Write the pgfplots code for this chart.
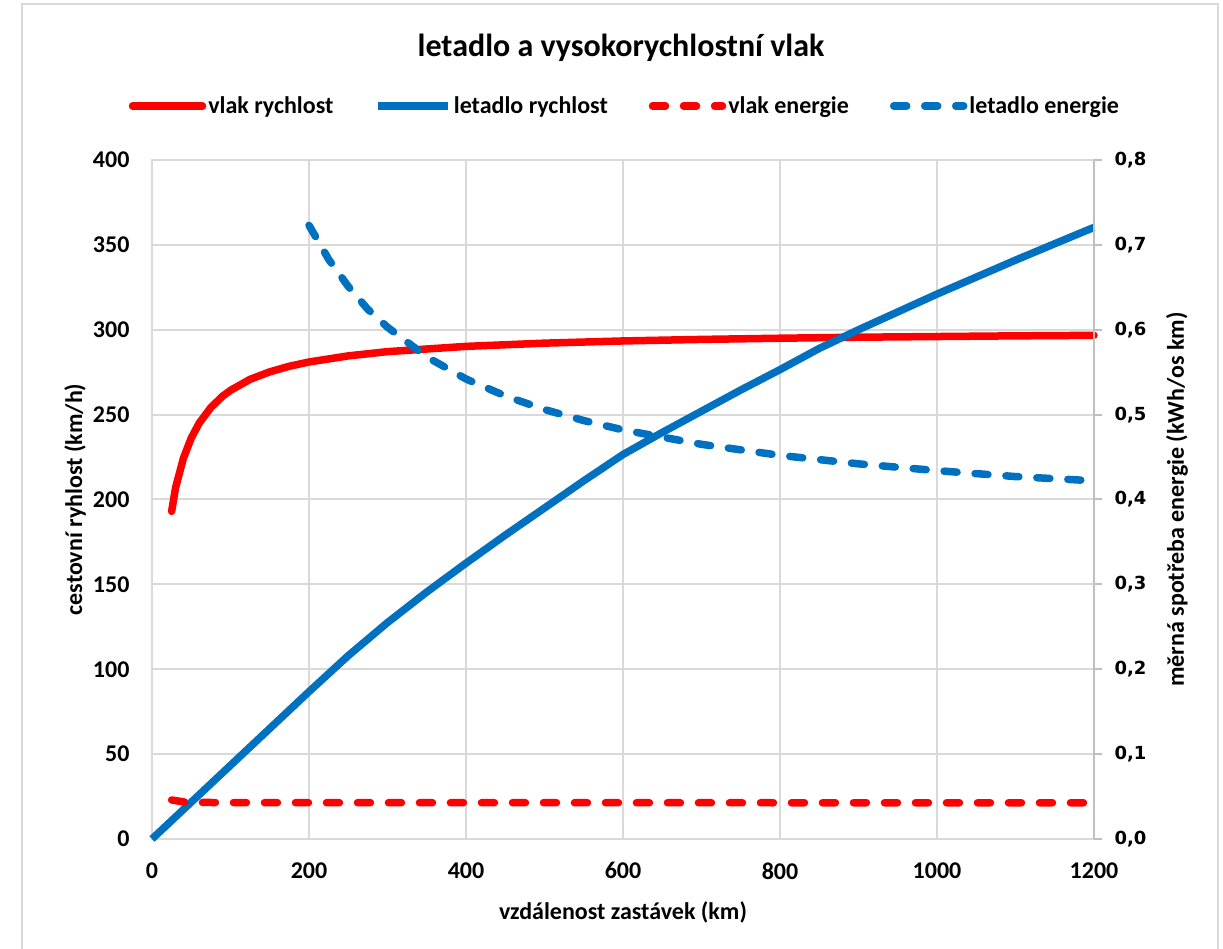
\documentclass[border=0pt]{standalone}
\usepackage{fontspec}
\setmainfont{Carlito}
\newfontfamily\dejavu{DejaVu Sans}
\usepackage{pgfplots}
\pgfplotsset{compat=1.18}
\definecolor{xred}{HTML}{FF0000}
\definecolor{xblue}{HTML}{0070C0}
\definecolor{gridgray}{HTML}{D9D9D9}
\definecolor{axgray}{HTML}{BFBFBF}
\begin{document}
\begin{tikzpicture}[x=1pt,y=1pt]
\useasboundingbox (0,0) rectangle (1223,949);
\draw[gridgray, line width=2pt] (22,0) -- (22,945) -- (1218,945) -- (1218,0);
\node[font=\fontsize{32}{36}\selectfont\bfseries] at (621,901) {letadlo a vysokorychlostní vlak};
\begin{axis}[
  at={(152pt,110pt)}, anchor=south west,
  scale only axis, width=942pt, height=679pt,
  xmin=0, xmax=1200, ymin=0, ymax=400,
  xtick={0,200,400,600,800,1000,1200},
  ytick={0,50,100,150,200,250,300,350,400},
  axis line style={draw=gridgray, line width=2pt},
  grid=major, major grid style={draw=gridgray, line width=2pt},
  major tick length=0pt,
  tick label style={font=\fontsize{24}{28}\selectfont\bfseries},
  /pgf/number format/assume math mode=true,
  /pgf/number format/set thousands separator={},
  xticklabel style={yshift=-20pt},
  yticklabel style={xshift=-19pt},
  xlabel={vzdálenost zastávek (km)},
  ylabel={cestovní ryhlost (km/h)},
  label style={font=\fontsize{24}{28}\selectfont\bfseries},
  xlabel style={at={(axis description cs:0.5,-0.1075)}, anchor=center},
  ylabel style={at={(axis description cs:-0.0817,0.5)}, anchor=center},
  clip=false,
  legend columns=4,
  legend style={at={(0.502,1.0795)}, anchor=center, draw=none, fill=none,
    font=\fontsize{24}{28}\selectfont\bfseries,
    /tikz/every even column/.append style={column sep=39pt},
    /tikz/every odd column/.append style={column sep=0pt}},
  legend image code/.code={\draw[#1] (0pt,0pt) -- (70pt,0pt);},
]
\addplot[xred, line width=7.5pt, line cap=round, line join=round] coordinates {
(25,193) (30,206.9) (40,224.3) (50,236.2) (60,244.9) (75,254.2) (90,260.9)
(100,264.3) (125,270.8) (150,275.2) (175,278.5) (200,281.0) (250,284.6)
(300,287.1) (400,290.2) (500,292.1) (600,293.4) (700,294.3) (800,295.0)
(900,295.6) (1000,296.0) (1100,296.4) (1200,296.7)};
\addlegendentry{vlak rychlost}
\addplot[xblue, line width=7.5pt, line join=round] coordinates {
(0,0) (50,21.7) (100,43.4) (150,65.1) (200,86.8) (250,108) (300,127.5)
(350,145.5) (400,162.5) (450,179) (500,195) (550,211) (600,226.5) (650,239.5)
(700,252) (750,264.5) (800,276.5) (850,289) (900,300) (950,310.5) (1000,321)
(1050,331) (1100,341) (1150,350.7) (1200,360.3)};
\addlegendentry{letadlo rychlost}
\addlegendimage{xred, line width=7.5pt, line cap=round, dash pattern=on 13pt off 18pt}
\addlegendentry{vlak energie}
\addlegendimage{xblue, line width=7.5pt, line cap=round, dash pattern=on 13pt off 18pt}
\addlegendentry{letadlo energie}
\end{axis}
\begin{axis}[
  at={(152pt,110pt)}, anchor=south west,
  scale only axis, width=942pt, height=679pt,
  xmin=0, xmax=1200, ymin=0, ymax=0.8,
  axis y line*=right, axis x line=none,
  ytick={0,0.1,0.2,0.3,0.4,0.5,0.6,0.7,0.8},
  y axis line style={draw=axgray, line width=2pt},
  ytick style={draw=axgray, line width=2pt},
  tick align=outside, major tick length=8pt,
  /pgf/number format/assume math mode=true,
  /pgf/number format/use comma,
  /pgf/number format/fixed,
  /pgf/number format/fixed zerofill,
  /pgf/number format/precision=1,
  yticklabel style={font={\dejavu\bfseries\fontsize{18}{21}\selectfont}, xshift=9pt},
  ylabel={měrná spotřeba energie (kWh/os km)},
  ylabel style={font=\fontsize{24}{28}\selectfont\bfseries, at={(axis description cs:1.088,0.5)}, anchor=center},
  clip=false,
]
\addplot[xred, line width=7.5pt, line cap=round, dash pattern=on 13pt off 18pt] coordinates {
(25,0.046) (40,0.0437) (50,0.0432) (75,0.043) (100,0.0429) (200,0.0428) (400,0.0428) (800,0.0427) (1200,0.0427)};
\addplot[xblue, line width=7.5pt, line cap=round, dash pattern=on 13pt off 18pt] coordinates {
(200,0.723) (225,0.683) (250,0.651) (275,0.624) (300,0.603) (350,0.568)
(400,0.542) (450,0.522) (500,0.506) (550,0.493) (600,0.482) (700,0.465)
(800,0.452) (900,0.442) (1000,0.434) (1100,0.427) (1200,0.422)};
\end{axis}
\end{tikzpicture}
\end{document}
